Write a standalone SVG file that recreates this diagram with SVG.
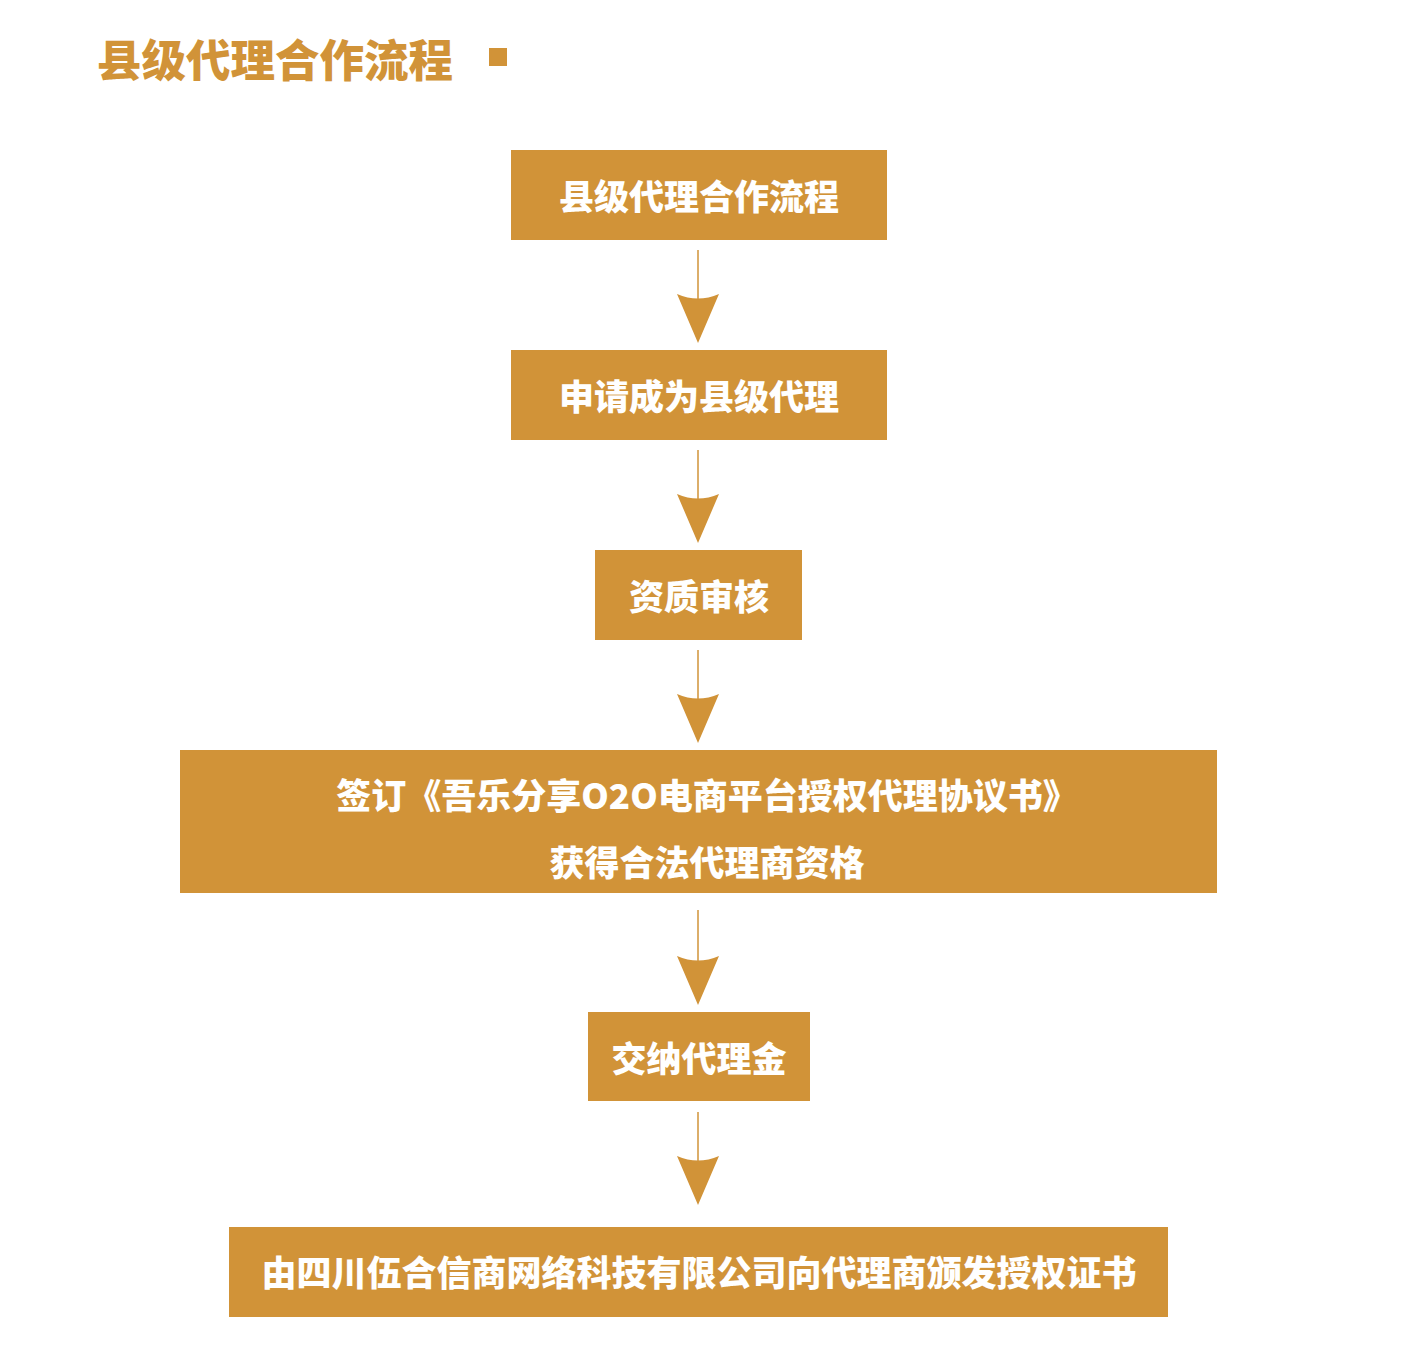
<svg xmlns="http://www.w3.org/2000/svg" width="1418" height="1372" viewBox="0 0 1418 1372">
<defs>
<style>
.box{fill:#D19338;}
.t{fill:#FFFFFF;font-family:"Noto Sans CJK SC","Noto Sans",sans-serif;font-weight:900;font-size:35px;text-anchor:middle;dominant-baseline:central;}
.ln{stroke:#D19338;stroke-width:1.5;fill:none;}
.ah{fill:#D19338;}
</style>
<path id="head" d="M-21,0 Q0,9 21,0 L0,49 Z"/>
</defs>
<rect width="1418" height="1372" fill="#FFFFFF"/>
<g id="title">
<text x="97" y="57" style="fill:#D19338;font-family:'Noto Sans CJK SC','Noto Sans',sans-serif;font-weight:900;font-size:44.5px;dominant-baseline:central;">县级代理合作流程</text>
<rect x="489" y="48" width="18" height="18" fill="#D19338"/>
</g>
<g id="connectors">
<line class="ln" x1="698" y1="250" x2="698" y2="300"/>
<use href="#head" class="ah" x="698" y="294"/>
<line class="ln" x1="698" y1="450" x2="698" y2="500"/>
<use href="#head" class="ah" x="698" y="494"/>
<line class="ln" x1="698" y1="650" x2="698" y2="700"/>
<use href="#head" class="ah" x="698" y="694"/>
<line class="ln" x1="698" y1="910" x2="698" y2="962"/>
<use href="#head" class="ah" x="698" y="956"/>
<line class="ln" x1="698" y1="1112" x2="698" y2="1162"/>
<use href="#head" class="ah" x="698" y="1156"/>
</g>
<g id="n1">
<rect class="box" x="511" y="150" width="376" height="90"/>
<text class="t" x="699" y="194">县级代理合作流程</text>
</g>
<g id="n2">
<rect class="box" x="511" y="350" width="376" height="90"/>
<text class="t" x="699" y="394">申请成为县级代理</text>
</g>
<g id="n3">
<rect class="box" x="595" y="550" width="207" height="90"/>
<text class="t" x="699" y="594">资质审核</text>
</g>
<g id="n4">
<rect class="box" x="180" y="750" width="1037" height="143"/>
<text class="t" x="707" y="793">签订《吾乐分享O2O电商平台授权代理协议书》</text>
<text class="t" x="707" y="860">获得合法代理商资格</text>
</g>
<g id="n5">
<rect class="box" x="588" y="1012" width="222" height="89"/>
<text class="t" x="699" y="1056">交纳代理金</text>
</g>
<g id="n6">
<rect class="box" x="229" y="1227" width="939" height="90"/>
<text class="t" x="699" y="1270">由四川伍合信商网络科技有限公司向代理商颁发授权证书</text>
</g>
</svg>
